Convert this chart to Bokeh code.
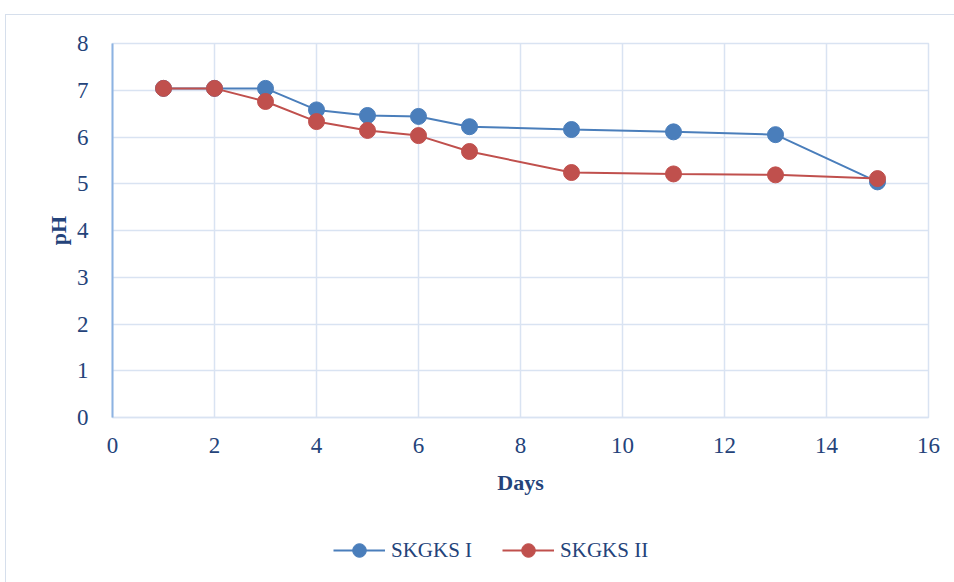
from bokeh.plotting import figure
from bokeh.models import Legend, LegendItem, Range1d, FixedTicker
from bokeh.layouts import column
from bokeh.embed import file_html
from bokeh.resources import INLINE

days = [1, 2, 3, 4, 5, 6, 7, 9, 11, 13, 15]
skgks_1 = [7.04, 7.04, 7.04, 6.58, 6.46, 6.44, 6.22, 6.16, 6.11, 6.05, 5.04]
skgks_2 = [7.04, 7.04, 6.76, 6.33, 6.14, 6.03, 5.69, 5.24, 5.21, 5.19, 5.11]
x_ticks = [0, 2, 4, 6, 8, 10, 12, 14, 16]
y_ticks = [0, 1, 2, 3, 4, 5, 6, 7, 8]

FONT = "Liberation Serif"
TXT = "#24437a"
GRID = "#d9e3f2"
BLUE = "#4a7ebb"
RED = "#c0504d"

p = figure(width=949, height=490, output_backend="svg", toolbar_location=None,
           x_range=Range1d(0, 16), y_range=Range1d(0, 8),
           min_border_left=106, min_border_right=27, min_border_top=28, min_border_bottom=88)
p.outline_line_color = GRID
p.outline_line_width = 1.5

p.xgrid.grid_line_color = GRID
p.ygrid.grid_line_color = GRID
p.xgrid.grid_line_width = 1.5
p.ygrid.grid_line_width = 1.5
p.xaxis.ticker = FixedTicker(ticks=x_ticks)
p.yaxis.ticker = FixedTicker(ticks=y_ticks)

for ax in (p.xaxis[0], p.yaxis[0]):
    ax.major_tick_line_color = None
    ax.minor_tick_line_color = None
    ax.major_label_text_font = FONT
    ax.major_label_text_font_size = "23px"
    ax.major_label_text_color = TXT
    ax.axis_label_text_font = FONT
    ax.axis_label_text_font_size = "22px"
    ax.axis_label_text_font_style = "bold"
    ax.axis_label_text_color = TXT

p.xaxis.axis_line_color = GRID
p.xaxis.axis_line_width = 1.5
p.yaxis.axis_line_color = "#8db3e2"
p.yaxis.axis_line_width = 2
p.xaxis.major_label_standoff = 14
p.yaxis.major_label_standoff = 18
p.xaxis.axis_label = "Days"
p.yaxis.axis_label = "pH"
p.xaxis.axis_label_standoff = 14
p.yaxis.axis_label_standoff = 3

p.line(days, skgks_1, line_color=BLUE, line_width=2)
p.scatter(days, skgks_1, size=16, fill_color=BLUE, line_color=BLUE)
p.line(days, skgks_2, line_color=RED, line_width=2)
p.scatter(days, skgks_2, size=16, fill_color=RED, line_color=RED)

# legend strip
q = figure(width=949, height=77, output_backend="svg", toolbar_location=None,
           x_range=Range1d(0, 1), y_range=Range1d(0, 1),
           x_axis_type=None, y_axis_type=None,
           min_border_left=0, min_border_right=0, min_border_top=0, min_border_bottom=0)
q.outline_line_color = None
q.grid.visible = False
ql1 = q.line([-5, -4], [-5, -4], line_color=BLUE, line_width=2)
qs1 = q.scatter([-5], [-5], size=16, fill_color=BLUE, line_color=BLUE)
ql2 = q.line([-5, -4], [-5, -4], line_color=RED, line_width=2)
qs2 = q.scatter([-5], [-5], size=16, fill_color=RED, line_color=RED)

legend = Legend(items=[LegendItem(label="SKGKS I", renderers=[ql1, qs1]),
                       LegendItem(label="SKGKS II", renderers=[ql2, qs2])],
                orientation="horizontal", location=(221, 15),
                glyph_width=52, glyph_height=34, label_text_font=FONT,
                label_text_font_size="21px", label_text_color=TXT,
                spacing=30, label_standoff=6, border_line_color=None,
                background_fill_alpha=0, padding=4, margin=0)
q.add_layout(legend, "center")

layout = column(p, q, spacing=0)
layout.margin = (14, 0, 0, 5)
layout.styles = {"border-left": "1px solid #d6dfec", "border-top": "1px solid #d6dfec"}

open("out.html", "w").write(file_html(layout, INLINE))
